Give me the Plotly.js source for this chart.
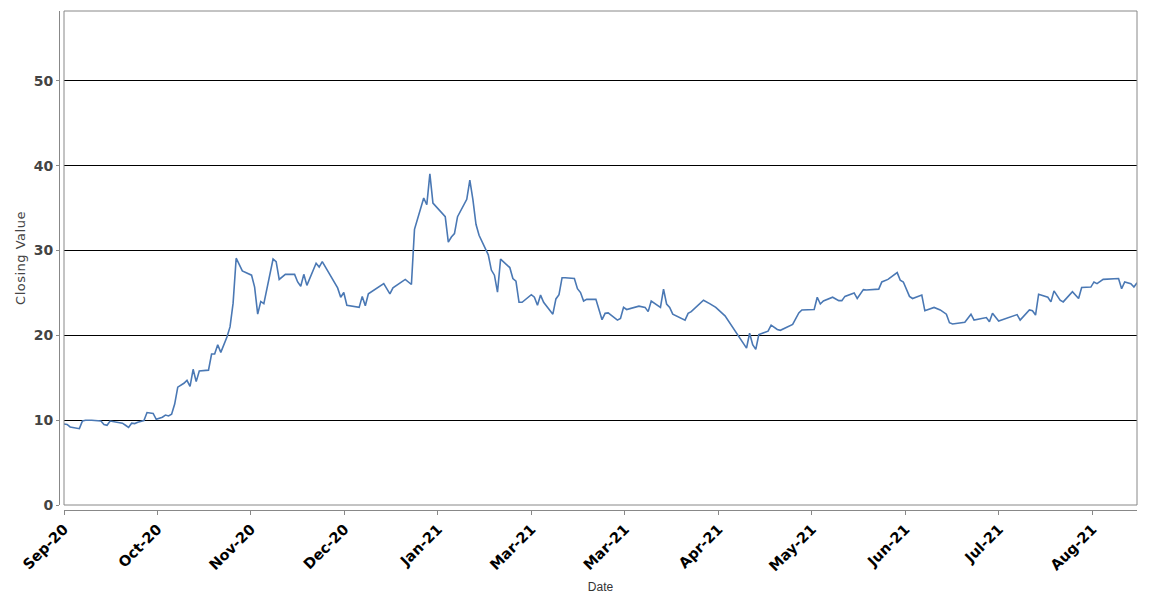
<!DOCTYPE html>
<html>
<head>
<meta charset="utf-8">
<script src="https://cdn.plot.ly/plotly-3.0.1.min.js"></script>
<style>html,body{margin:0;padding:0;background:#fff;}#chart{width:1150px;height:600px;}
.ytitle{letter-spacing:0.5px;}
</style>
</head>
<body>
<div id="chart"></div>
<script>
var dates = [
 '2020-09-30','2020-10-01','2020-10-02','2020-10-05','2020-10-06','2020-10-07','2020-10-09','2020-10-12','2020-10-13','2020-10-14',
 '2020-10-15','2020-10-17','2020-10-19','2020-10-20','2020-10-21','2020-10-22','2020-10-23','2020-10-24','2020-10-26','2020-10-27',
 '2020-10-29','2020-10-30','2020-11-01','2020-11-02','2020-11-03','2020-11-04','2020-11-05','2020-11-06','2020-11-08','2020-11-09',
 '2020-11-10','2020-11-11','2020-11-12','2020-11-13','2020-11-16','2020-11-17','2020-11-18','2020-11-19','2020-11-20','2020-11-22',
 '2020-11-23','2020-11-24','2020-11-25','2020-11-27','2020-11-30','2020-12-01','2020-12-02','2020-12-03','2020-12-04','2020-12-07',
 '2020-12-08','2020-12-09','2020-12-11','2020-12-14','2020-12-15','2020-12-16','2020-12-17','2020-12-18','2020-12-21','2020-12-22',
 '2020-12-23','2020-12-28','2020-12-29','2020-12-30','2020-12-31','2021-01-04','2021-01-05','2021-01-06','2021-01-07','2021-01-12',
 '2021-01-13','2021-01-14','2021-01-15','2021-01-19','2021-01-21','2021-01-22','2021-01-25','2021-01-26','2021-01-27','2021-01-28',
 '2021-02-01','2021-02-02','2021-02-03','2021-02-04','2021-02-05','2021-02-08','2021-02-09','2021-02-10','2021-02-11','2021-02-12',
 '2021-02-15','2021-02-16','2021-02-17','2021-02-18','2021-02-19','2021-02-22','2021-02-23','2021-02-24','2021-02-25','2021-02-26',
 '2021-03-01','2021-03-02','2021-03-03','2021-03-04','2021-03-05','2021-03-08','2021-03-09','2021-03-10','2021-03-11','2021-03-12',
 '2021-03-15','2021-03-16','2021-03-17','2021-03-18','2021-03-19','2021-03-22','2021-03-24','2021-03-25','2021-03-26','2021-03-29',
 '2021-03-30','2021-03-31','2021-04-01','2021-04-05','2021-04-07','2021-04-08','2021-04-09','2021-04-12','2021-04-13','2021-04-14',
 '2021-04-15','2021-04-16','2021-04-20','2021-04-21','2021-04-22','2021-04-24','2021-04-26','2021-04-28','2021-04-30','2021-05-03',
 '2021-05-05','2021-05-07','2021-05-10','2021-05-11','2021-05-12','2021-05-13','2021-05-14','2021-05-17','2021-05-18','2021-05-20',
 '2021-05-21','2021-05-25','2021-05-27','2021-05-28','2021-06-01','2021-06-02','2021-06-03','2021-06-04','2021-06-07','2021-06-09',
 '2021-06-10','2021-06-11','2021-06-14','2021-06-15','2021-06-17','2021-06-18','2021-06-22','2021-06-23','2021-06-25','2021-06-28',
 '2021-06-29','2021-06-30','2021-07-02','2021-07-03','2021-07-06','2021-07-07','2021-07-10','2021-07-12','2021-07-14','2021-07-15',
 '2021-07-16','2021-07-20','2021-07-22','2021-07-23','2021-07-27','2021-07-28','2021-07-29','2021-07-31','2021-08-03','2021-08-04',
 '2021-08-06','2021-08-07','2021-08-10','2021-08-11','2021-08-12','2021-08-13','2021-08-16','2021-08-17','2021-08-18','2021-08-20',
 '2021-08-21','2021-08-24','2021-08-26','2021-08-27','2021-08-30','2021-08-31','2021-09-01','2021-09-03','2021-09-08','2021-09-09',
 '2021-09-10','2021-09-12','2021-09-13','2021-09-14'
];
var closing = [
 9.55,9.5,9.2,9.0,9.9,10.0,10.0,9.9,9.5,9.4,
 9.9,9.75,9.65,9.4,9.15,9.65,9.6,9.75,9.95,10.9,
 10.8,10.1,10.35,10.6,10.5,10.7,11.9,13.9,14.35,14.7,
 14.0,16.0,14.55,15.8,15.9,17.8,17.8,18.9,18.0,19.8,
 21.0,23.8,29.1,27.6,27.1,25.7,22.5,24.0,23.75,29.0,
 28.7,26.6,27.2,27.2,26.3,25.8,27.2,25.9,28.5,28.05,
 28.7,25.6,24.5,25.05,23.55,23.3,24.6,23.5,24.9,26.1,
 25.5,24.9,25.6,26.6,26.0,32.5,36.2,35.4,39.05,35.6,
 34.0,31.0,31.6,32.0,34.0,36.05,38.3,36.0,33.1,31.8,
 29.5,27.7,27.1,25.1,29.0,28.0,26.7,26.4,23.9,23.9,
 24.8,24.5,23.55,24.75,23.9,22.5,24.3,24.8,26.8,26.8,
 26.7,25.5,25.05,24.05,24.25,24.25,21.85,22.6,22.65,21.8,
 22.0,23.3,23.05,23.45,23.3,22.8,24.05,23.3,25.45,23.7,
 23.3,22.5,21.8,22.6,22.8,23.45,24.15,23.75,23.3,22.3,
 21.2,20.05,18.5,20.25,18.9,18.35,20.1,20.5,21.2,20.7,
 20.6,21.3,22.65,23.0,23.05,24.5,23.7,24.05,24.5,24.1,
 24.1,24.6,25.0,24.35,25.4,25.35,25.45,26.3,26.6,27.4,
 26.5,26.3,24.6,24.35,24.75,22.9,23.3,23.0,22.5,21.5,
 21.35,21.55,22.5,21.8,22.1,21.6,22.6,21.7,22.1,22.2,
 22.45,21.8,23.0,22.9,22.4,24.85,24.5,23.95,25.25,24.15,
 23.95,25.15,24.35,25.65,25.7,26.3,26.1,26.6,26.7,25.5,
 26.3,26.1,25.7,26.2
];
var yTicks = [0, 10, 20, 30, 40, 50];
var xTickStart = '2020-09-30';
var xTickStepDays = 30.41;
var xTickFormat = '%b-%y';
var xTitle = 'Date';
var yTitle = 'Closing Value';

var W = 1150, H = 600;
var mL = 59, mR = 13, mT = 11, mB = 90;
var pw = W - mL - mR, ph = H - mT - mB;
var gap = 5;

var trace = {
  x: dates, y: closing, type: 'scatter', mode: 'lines',
  line: {color: '#4a78b4', width: 1.6}, hoverinfo: 'x+y'
};

var layout = {
  width: W, height: H,
  margin: {l: mL, r: mR, t: mT, b: mB, pad: 0},
  paper_bgcolor: '#ffffff', plot_bgcolor: '#ffffff',
  showlegend: false,
  xaxis: {
    type: 'date',
    domain: [gap / pw, 1],
    anchor: 'free', position: 0,
    range: [dates[0], dates[dates.length - 1]],
    tick0: xTickStart, dtick: xTickStepDays * 86400000,
    tickformat: xTickFormat, tickangle: -45,
    tickfont: {family: 'DejaVu Sans', size: 14.5, color: '#000000', weight: 'bold'},
    ticks: 'outside', ticklen: 4, tickcolor: '#888888', tickwidth: 1,
    showline: true, linecolor: '#888888', linewidth: 1,
    showgrid: false, zeroline: false,
    title: {text: xTitle, font: {family: 'Liberation Sans', size: 12, color: '#333333'}, standoff: 9},
    automargin: false
  },
  yaxis: {
    domain: [gap / ph, 1],
    anchor: 'free', position: 0,
    range: [0, 58.25],
    tickvals: yTicks,
    tickfont: {family: 'DejaVu Sans', size: 14, color: '#444444', weight: 'bold'},
    ticks: 'outside', ticklen: 3, tickcolor: '#888888', tickwidth: 1,
    showline: true, linecolor: '#888888', linewidth: 1,
    showgrid: true, gridcolor: '#000000', gridwidth: 1,
    zeroline: false,
    title: {text: yTitle, font: {family: 'DejaVu Sans', size: 13, color: '#444444'}, standoff: 4},
    automargin: false
  },
  shapes: [{
    type: 'rect', xref: 'paper', yref: 'paper',
    x0: gap / pw, x1: 1, y0: gap / ph, y1: 1,
    line: {color: '#888888', width: 1}, fillcolor: 'rgba(0,0,0,0)', layer: 'above'
  }]
};

Plotly.newPlot('chart', [trace], layout, {displayModeBar: false, staticPlot: true});
</script>
</body>
</html>
